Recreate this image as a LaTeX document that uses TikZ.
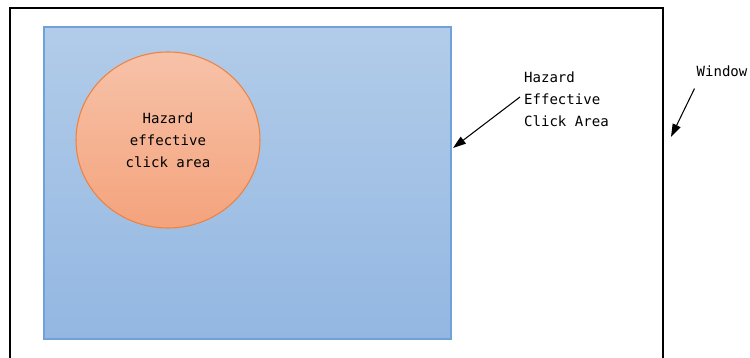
\documentclass[tikz,border=0pt]{standalone}
\usepackage{fontspec}
\setmonofont{DejaVu Sans Mono}
\usepackage{tikz}
\usetikzlibrary{
    calc,
    arrows.meta,
    shapes.geometric
}
\definecolor{areatop}{HTML}{B2CCE9}
\definecolor{areabot}{HTML}{93B7E2}
\definecolor{areaedge}{HTML}{6FA2DA}
\definecolor{spottop}{HTML}{F7C2A9}
\definecolor{spotbot}{HTML}{F4A37C}
\definecolor{spotedge}{HTML}{EE823F}
\tikzset{
    lbl/.style={font=\ttfamily\fontsize{8}{12.5}\selectfont, align=left, inner sep=1pt},
    pointer/.style={-{Triangle[length=2.6mm,width=1.7mm]}, line width=0.6pt}
}

\begin{document}
\begin{tikzpicture}
        \useasboundingbox (0,0) rectangle (15,7.16);

        % window outline, open at the bottom
        \draw[line width=0.9pt] (0.2,0) -- (0.2,7.0) -- (13.26,7.0) -- (13.26,0);

        \draw (4.95,3.5) node[draw=areaedge, line width=0.6pt, top color=areatop, bottom color=areabot,
            minimum width=8.14cm, minimum height=6.24cm, inner sep=0](area){};
        \draw (3.36,4.36) node[ellipse, draw=spotedge, line width=0.6pt, top color=spottop, bottom color=spotbot,
            minimum width=3.68cm, minimum height=3.52cm, inner sep=0, lbl, align=center](spot){Hazard\\effective\\click area};

        \draw (10.44,5.18) node[lbl, anchor=west](arealbl){Hazard\\Effective\\Click Area};
        \draw (14.44,5.74) node[lbl](winlbl){Window};

        \coordinate (areatip) at (9.06,4.2);
        \coordinate (wintip) at (13.42,4.42);

        \draw[pointer] ($(arealbl.west)+(-0.04,0.04)$) to (areatip);
        \draw[pointer] ($(winlbl.south west)+(0.0,-0.2)$) to (wintip);
    \end{tikzpicture}
\end{document}
